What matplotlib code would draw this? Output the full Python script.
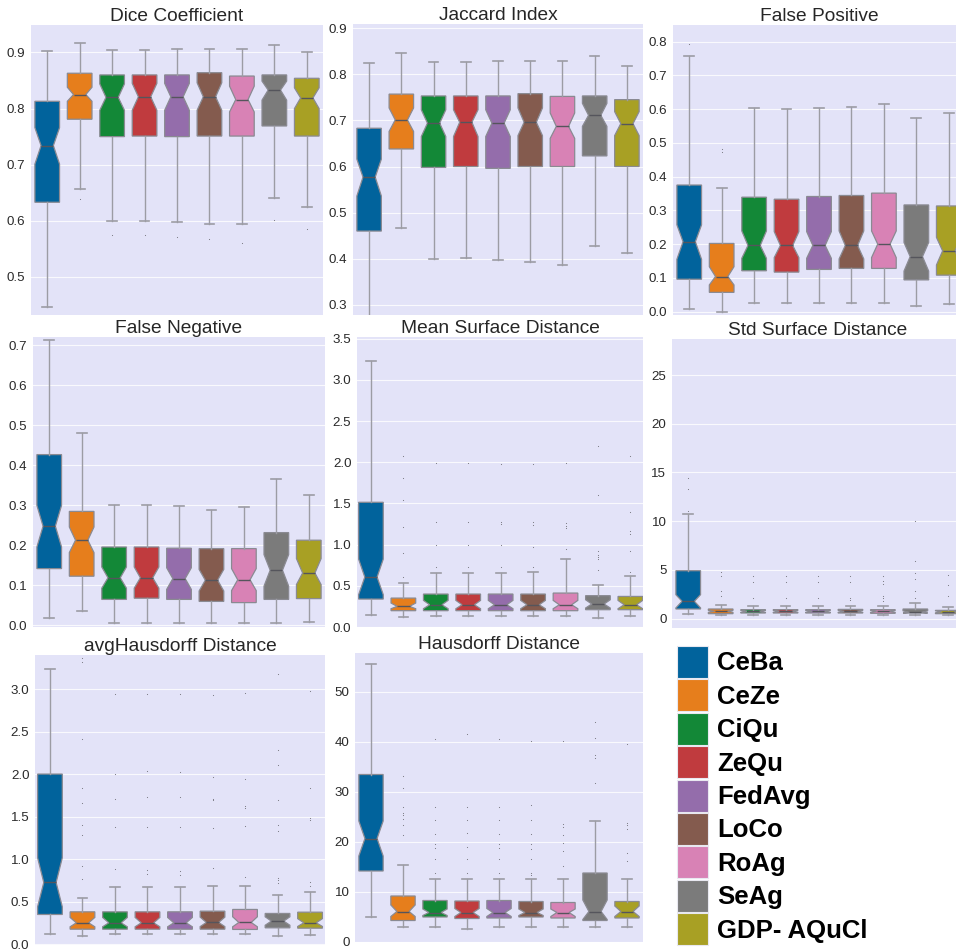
import matplotlib
matplotlib.use('Agg')
import matplotlib.pyplot as plt
from matplotlib.patches import Patch

plt.rcParams['font.family'] = ['Liberation Sans', 'DejaVu Sans']

methods = ['CeBa', 'CeZe', 'CiQu', 'ZeQu', 'FedAvg', 'LoCo', 'RoAg', 'SeAg', 'GDP- AQuCl']
colors = ['#01639c', '#e67e1c', '#138837', '#c03b3e', '#946dab',
          '#845b4e', '#d882b5', '#7b7b7b', '#a8a024']

# each row: whisker low, q1, median, q3, whisker high
dice_box = [[0.446, 0.633, 0.734, 0.813, 0.903],
            [0.656, 0.781, 0.825, 0.863, 0.917],
            [0.600, 0.750, 0.820, 0.860, 0.905],
            [0.599, 0.751, 0.821, 0.860, 0.905],
            [0.597, 0.750, 0.821, 0.860, 0.906],
            [0.595, 0.751, 0.821, 0.864, 0.907],
            [0.594, 0.751, 0.816, 0.858, 0.907],
            [0.641, 0.769, 0.833, 0.860, 0.913],
            [0.625, 0.751, 0.819, 0.854, 0.901]]
dice_notch = [[0.701, 0.766], [0.813, 0.838], [0.797, 0.844], [0.797, 0.845], [0.797, 0.845],
              [0.797, 0.846], [0.794, 0.840], [0.815, 0.849], [0.800, 0.837]]
dice_fliers = [[], [0.638], [0.574], [0.575], [0.571], [0.567], [0.561], [0.602], [0.586]]

jac_box = [[0.25, 0.460, 0.577, 0.683, 0.824],
           [0.466, 0.638, 0.701, 0.757, 0.846],
           [0.400, 0.598, 0.694, 0.753, 0.826],
           [0.401, 0.600, 0.696, 0.753, 0.826],
           [0.398, 0.596, 0.694, 0.753, 0.828],
           [0.392, 0.600, 0.696, 0.758, 0.828],
           [0.387, 0.600, 0.687, 0.752, 0.828],
           [0.427, 0.623, 0.711, 0.753, 0.839],
           [0.412, 0.600, 0.693, 0.745, 0.819]]
jac_notch = [[0.536, 0.616], [0.676, 0.727], [0.665, 0.723], [0.665, 0.723], [0.665, 0.723],
             [0.667, 0.727], [0.661, 0.716], [0.687, 0.737], [0.667, 0.719]]
jac_fliers = [[], [], [], [], [], [], [], [], []]

fp_box = [[0.008, 0.096, 0.207, 0.375, 0.756],
          [0.000, 0.057, 0.104, 0.202, 0.365],
          [0.027, 0.121, 0.196, 0.339, 0.602],
          [0.027, 0.117, 0.196, 0.333, 0.600],
          [0.027, 0.125, 0.196, 0.341, 0.602],
          [0.027, 0.128, 0.196, 0.344, 0.607],
          [0.027, 0.128, 0.200, 0.351, 0.614],
          [0.017, 0.094, 0.163, 0.316, 0.573],
          [0.023, 0.108, 0.180, 0.313, 0.588]]
fp_notch = [[0.155, 0.257], [0.079, 0.133], [0.158, 0.239], [0.160, 0.237], [0.158, 0.237],
            [0.156, 0.239], [0.160, 0.239], [0.120, 0.205], [0.138, 0.220]]
fp_fliers = [[0.792], [0.481, 0.474], [], [], [], [], [], [], []]

fn_box = [[0.019, 0.142, 0.248, 0.427, 0.713],
          [0.035, 0.123, 0.213, 0.285, 0.481],
          [0.007, 0.065, 0.119, 0.196, 0.302],
          [0.007, 0.068, 0.119, 0.196, 0.302],
          [0.007, 0.065, 0.117, 0.193, 0.298],
          [0.006, 0.060, 0.113, 0.192, 0.289],
          [0.006, 0.057, 0.114, 0.192, 0.296],
          [0.007, 0.065, 0.138, 0.232, 0.365],
          [0.008, 0.067, 0.131, 0.213, 0.325]]
fn_notch = [[0.196, 0.300], [0.182, 0.246], [0.093, 0.146], [0.093, 0.146], [0.090, 0.144],
            [0.086, 0.140], [0.087, 0.142], [0.098, 0.177], [0.102, 0.167]]
fn_fliers = [[], [], [], [], [], [], [], [], []]

msd_box = [[0.149, 0.339, 0.606, 1.514, 3.23],
           [0.121, 0.198, 0.250, 0.351, 0.533],
           [0.137, 0.198, 0.270, 0.400, 0.654],
           [0.137, 0.198, 0.270, 0.400, 0.654],
           [0.137, 0.198, 0.270, 0.400, 0.654],
           [0.137, 0.198, 0.270, 0.400, 0.662],
           [0.137, 0.198, 0.270, 0.412, 0.824],
           [0.109, 0.210, 0.279, 0.380, 0.505],
           [0.129, 0.210, 0.270, 0.371, 0.622]]
msd_notch = [[0.392, 0.824], [0.222, 0.291], [0.222, 0.323], [0.222, 0.323], [0.222, 0.323],
             [0.222, 0.323], [0.222, 0.323], [0.230, 0.331], [0.222, 0.323]]
msd_fliers = [[],
              [2.07, 1.81, 1.54, 1.21, 0.90, 0.61],
              [1.99, 1.27, 1.00, 0.73],
              [1.99, 1.27, 1.00, 0.73],
              [1.98, 1.28, 1.25, 1.00, 0.73],
              [1.98, 1.27, 1.24, 0.97, 0.73],
              [1.99, 1.26, 1.23, 1.20, 0.945],
              [2.20, 1.60, 0.92, 0.88, 0.85, 0.82, 0.69],
              [2.07, 1.39, 1.16, 1.13, 0.92, 0.67]]

ssd_box = [[0.48, 0.99, 1.78, 4.92, 10.72],
           [0.41, 0.51, 0.75, 0.99, 1.43],
           [0.41, 0.58, 0.75, 0.92, 1.26],
           [0.41, 0.58, 0.75, 0.92, 1.26],
           [0.41, 0.58, 0.75, 0.92, 1.26],
           [0.41, 0.58, 0.75, 0.95, 1.26],
           [0.41, 0.55, 0.75, 0.92, 1.26],
           [0.34, 0.58, 0.65, 0.99, 1.61],
           [0.41, 0.51, 0.70, 0.85, 1.23]]
ssd_notch = [[1.10, 2.46], [0.65, 0.85], [0.65, 0.85], [0.65, 0.85], [0.65, 0.85],
             [0.65, 0.85], [0.65, 0.85], [0.58, 0.80], [0.60, 0.80]]
ssd_fliers = [[14.48, 13.32, 11.07],
              [4.75, 4.34, 2.87, 2.36],
              [4.34, 3.72, 2.12],
              [4.34, 3.72, 2.12],
              [4.34, 3.72, 2.12],
              [4.34, 3.72, 2.12, 1.95],
              [4.34, 3.86, 3.52, 2.33, 2.09, 1.78],
              [10.07, 5.87, 4.68, 4.06, 2.80, 2.12],
              [4.44, 3.41, 2.36]]

ahd_box = [[0.118, 0.349, 0.725, 2.00, 3.235],
           [0.094, 0.176, 0.251, 0.380, 0.537],
           [0.118, 0.176, 0.251, 0.380, 0.675],
           [0.118, 0.176, 0.251, 0.380, 0.675],
           [0.118, 0.176, 0.251, 0.380, 0.675],
           [0.118, 0.176, 0.255, 0.388, 0.682],
           [0.118, 0.173, 0.255, 0.408, 0.686],
           [0.094, 0.192, 0.271, 0.361, 0.576],
           [0.106, 0.188, 0.251, 0.376, 0.608]]
ahd_notch = [[0.439, 1.016], [0.204, 0.314], [0.204, 0.314], [0.204, 0.314], [0.204, 0.314],
             [0.206, 0.318], [0.204, 0.322], [0.222, 0.322], [0.208, 0.300]]
ahd_fliers = [[],
              [3.36, 3.32, 2.41, 1.84, 1.66, 1.40, 1.28, 0.92, 0.77],
              [2.94, 2.00, 1.71, 1.38, 0.88],
              [2.94, 2.04, 1.73, 1.38, 0.87, 0.83],
              [2.94, 2.02, 1.73, 1.38, 0.86, 0.81],
              [2.93, 1.97, 1.71, 1.69, 1.37, 0.90],
              [2.95, 1.94, 1.63, 1.60, 1.39, 0.79],
              [3.18, 2.28, 2.11, 1.69, 1.40, 1.33, 0.78, 0.75, 0.72],
              [2.98, 1.84, 1.48, 1.46, 0.73, 0.68]]

hd_box = [[5.0, 14.2, 20.7, 33.5, 55.7],
          [3.0, 4.3, 6.1, 9.2, 15.4],
          [3.1, 5.0, 5.9, 8.3, 12.6],
          [2.6, 4.7, 5.9, 8.2, 12.6],
          [3.0, 4.8, 5.9, 8.3, 12.6],
          [3.0, 5.0, 5.9, 8.1, 12.6],
          [3.1, 4.8, 5.9, 7.9, 12.6],
          [3.0, 4.3, 6.1, 13.8, 24.3],
          [3.1, 4.8, 6.1, 8.1, 12.6]]
hd_notch = [[17.2, 24.2], [5.1, 7.4], [5.3, 6.6], [5.1, 6.7], [5.1, 6.7],
            [5.3, 6.6], [5.1, 6.6], [4.5, 8.4], [5.1, 7.2]]
hd_fliers = [[],
             [33.2, 30.9, 27.1, 25.9, 25.4, 24.7, 23.4, 21.4],
             [40.7, 27.1, 24.4, 21.7, 19.7, 18.9, 16.6, 13.8],
             [41.7, 27.1, 24.4, 21.8, 19.0, 16.6, 13.8],
             [40.7, 27.1, 24.4, 21.7, 19.7, 18.9, 16.6, 13.8],
             [40.2, 27.4, 24.4, 21.7, 19.7, 18.6, 16.6, 13.8, 13.4],
             [40.2, 23.7, 23.1, 21.4, 19.9, 18.3, 15.2],
             [44.0, 40.8, 37.4, 36.8, 31.8],
             [39.7, 23.9, 23.4, 22.7, 17.8, 16.2]]

W, H = 956, 952
fig = plt.figure(figsize=(W / 100, H / 100), dpi=100)


def px_axes(l, t, r, b):
    return fig.add_axes([l / W, 1 - b / H, (r - l) / W, (b - t) / H])


def draw_panel(rect, title, box, notch, fliers, ylim, yticks, yfmt, xlim=(-0.5, 8.5)):
    ax = px_axes(*rect)
    stats = []
    for i in range(len(methods)):
        lo, q1, med, q3, hi = box[i]
        stats.append(dict(whislo=lo, q1=q1, med=med, q3=q3, whishi=hi,
                          cilo=notch[i][0], cihi=notch[i][1], fliers=fliers[i]))
    bp = ax.bxp(stats, positions=range(len(methods)), widths=0.76, capwidths=0.3,
                shownotches=True, patch_artist=True,
                boxprops=dict(edgecolor='#8a8a92', linewidth=0.9),
                whiskerprops=dict(color='#9c9ca4', linewidth=1.0),
                capprops=dict(color='#9c9ca4', linewidth=1.2),
                medianprops=dict(color='#55555c', linewidth=1.0),
                flierprops=dict(marker='.', markersize=1.6, markerfacecolor='#77777f',
                                markeredgecolor='none', linestyle='none'))
    for patch, c in zip(bp['boxes'], colors):
        patch.set_facecolor(c)
    ax.set_facecolor('#e3e3f8')
    ax.set_xlim(*xlim)
    ax.set_ylim(*ylim)
    ax.set_yticks(yticks)
    ax.set_yticklabels([yfmt.format(v) for v in yticks])
    ax.set_xticks([])
    ax.yaxis.grid(True, color='white', linewidth=0.8, alpha=0.8)
    ax.set_axisbelow(True)
    for s in ax.spines.values():
        s.set_visible(False)
    ax.tick_params(axis='y', length=0, pad=4, labelsize=9.6, labelcolor='#2a2a2a')
    ax.set_title(title, fontsize=13.8, color='#262626', pad=2)
    return ax


draw_panel((31, 25, 323, 315), 'Dice Coefficient', dice_box, dice_notch, dice_fliers,
           (0.432, 0.949), [0.5, 0.6, 0.7, 0.8, 0.9], '{:.1f}')
draw_panel((353, 24, 643, 315), 'Jaccard Index', jac_box, jac_notch, jac_fliers,
           (0.278, 0.909), [0.3, 0.4, 0.5, 0.6, 0.7, 0.8, 0.9], '{:.1f}')
draw_panel((673, 25, 965, 315), 'False Positive', fp_box, fp_notch, fp_fliers,
           (-0.01, 0.849), [0.0, 0.1, 0.2, 0.3, 0.4, 0.5, 0.6, 0.7, 0.8], '{:.1f}')
draw_panel((33, 337, 325, 627), 'False Negative', fn_box, fn_notch, fn_fliers,
           (-0.004, 0.721), [0.0, 0.1, 0.2, 0.3, 0.4, 0.5, 0.6, 0.7], '{:.1f}')
draw_panel((357, 337, 643, 627), 'Mean Surface Distance', msd_box, msd_notch, msd_fliers,
           (0.008, 3.52), [0.0, 0.5, 1.0, 1.5, 2.0, 2.5, 3.0, 3.5], '{:.1f}',
           xlim=(-0.43, 8.39))
draw_panel((672, 339, 964, 628), 'Std Surface Distance', ssd_box, ssd_notch, ssd_fliers,
           (-0.96, 28.7), [0, 5, 10, 15, 20, 25], '{:d}')
draw_panel((35, 655, 325, 945), 'avgHausdorff Distance', ahd_box, ahd_notch, ahd_fliers,
           (-0.01, 3.40), [0.0, 0.5, 1.0, 1.5, 2.0, 2.5, 3.0], '{:.1f}',
           xlim=(-0.46, 8.46))
draw_panel((355, 653, 643, 942), 'Hausdorff Distance', hd_box, hd_notch, hd_fliers,
           (0.13, 57.8), [0, 10, 20, 30, 40, 50], '{:d}')

# legend panel
handles = [Patch(facecolor=c, edgecolor='#e8e8f0', linewidth=0.8) for c in colors]
fig.legend(handles, methods, loc='upper left', bbox_to_anchor=(677 / W, 1 - 646 / H),
           frameon=False, borderpad=0, borderaxespad=0,
           prop=dict(family='Liberation Sans', weight='bold', size=18.5),
           handlelength=1.2, handleheight=1.545, labelspacing=0.05, handletextpad=0.35)

fig.savefig('out.png', dpi=100, facecolor='white')
